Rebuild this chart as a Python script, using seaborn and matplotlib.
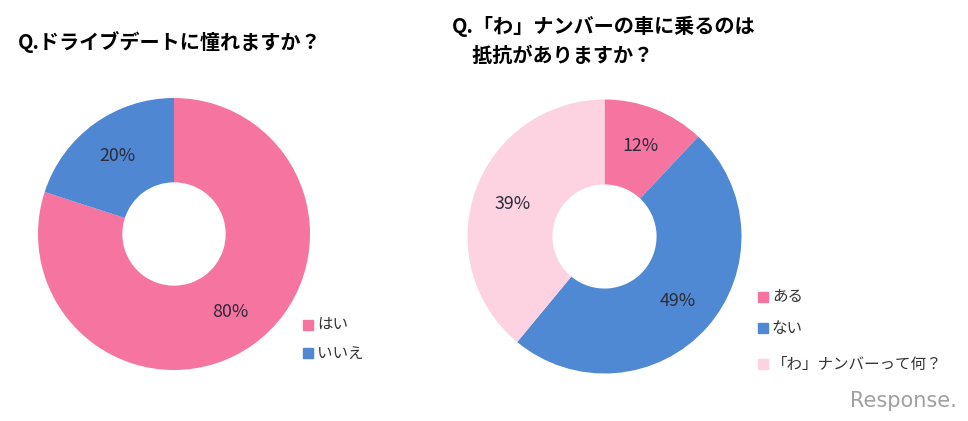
import matplotlib
matplotlib.use("Agg")
import matplotlib.pyplot as plt
import seaborn as sns

sns.set_theme(style="white")
plt.rcParams['font.family'] = ['Noto Sans CJK JP', 'DejaVu Sans']

# Data
q1_title = "Q.ドライブデートに憧れますか？"
q1_labels = ["はい", "いいえ"]
q1_values = [80, 20]
q1_colors = ["#F674A0", "#4F87D2"]

q2_title = "Q.「わ」ナンバーの車に乗るのは\n　抵抗がありますか？"
q2_labels = ["ある", "ない", "「わ」ナンバーって何？"]
q2_values = [12, 49, 39]
q2_colors = ["#F674A0", "#5089D3", "#FDD3E2"]

W, H = 968, 421
fig = plt.figure(figsize=(W / 100, H / 100), dpi=100)
fig.patch.set_facecolor("white")


def donut(cx, cy, R, values, colors):
    ax = fig.add_axes([(cx - R) / W, (H - cy - R) / H, 2 * R / W, 2 * R / H])
    wedges, texts, autotexts = ax.pie(
        values, colors=colors, startangle=90, counterclock=False,
        radius=1.0, autopct="%d%%", pctdistance=0.71,
        wedgeprops=dict(width=0.62, edgecolor="none"),
        textprops=dict(fontsize=12.8, color="#2b2b3a"))
    ax.set_xlim(-1, 1)
    ax.set_ylim(-1, 1)
    ax.set_aspect("equal")
    ax.axis("off")
    return ax


donut(174, 234, 136, q1_values, q1_colors)
donut(604.5, 236.5, 137, q2_values, q2_colors)

# Titles
fig.text(18 / W, 1 - 42 / H, q1_title, fontsize=14.5, fontweight="bold",
         va="center", ha="left", color="black")
fig.text(452 / W, 1 - 41 / H, q2_title, fontsize=14.5, fontweight="bold",
         va="center", ha="left", color="black", linespacing=1.5)


# Legends
def legend(x, ys, labels, colors):
    for y, lab, col in zip(ys, labels, colors):
        fig.patches.append(plt.Rectangle(((x - 5) / W, 1 - (y + 5) / H), 10 / W, 10 / H,
                                         transform=fig.transFigure, color=col,
                                         figure=fig))
        fig.text((x + 9) / W, 1 - y / H, lab, fontsize=11.2, va="center", ha="left",
                 color="#333333")


legend(308, [325, 353], q1_labels, q1_colors)
legend(763, [297, 328, 364], q2_labels, q2_colors)

# Watermark
fig.text(957 / W, 1 - 401 / H, "Response.", fontsize=15, ha="right", va="center",
         color="#a0a0a0", family=['DejaVu Sans'])

fig.savefig("out.png", dpi=100, facecolor="white")
